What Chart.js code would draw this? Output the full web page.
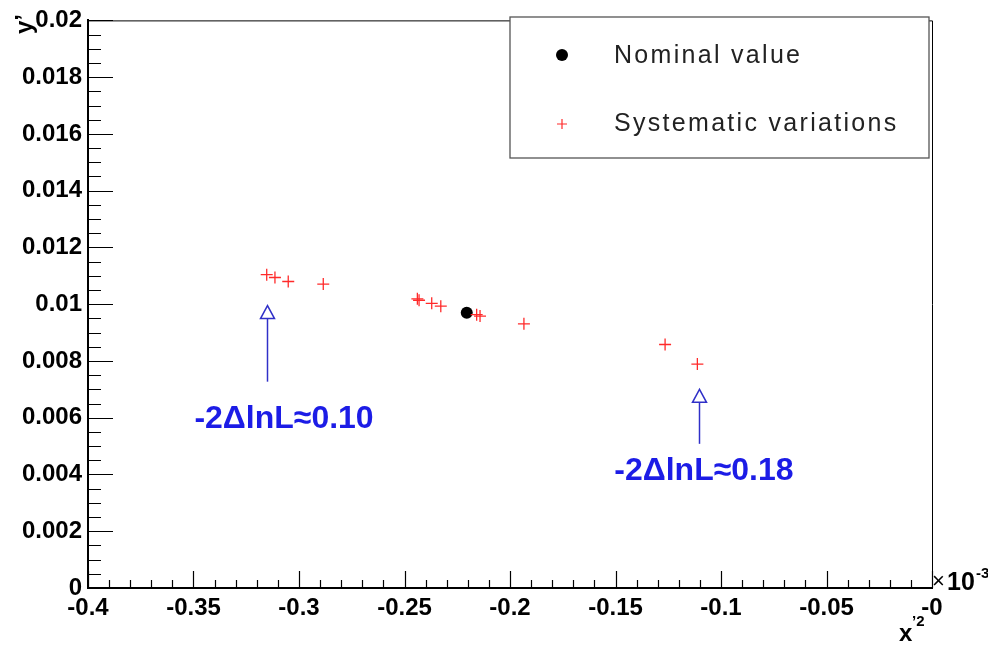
<!DOCTYPE html>
<html>
<head>
<meta charset="utf-8">
<script src="https://cdn.jsdelivr.net/npm/chart.js@4.4.1/dist/chart.umd.min.js"></script>
<style>
  html, body { margin: 0; padding: 0; background: #fff; }
  #wrap { width: 988px; height: 652px; }
</style>
</head>
<body>
<div id="wrap"><canvas id="scanChart"></canvas></div>
<script>
// systematic variations (x'^2, y')
var sysX = [-0.3153, -0.3114, -0.3051, -0.2885, -0.2439, -0.2431, -0.2371, -0.2328, -0.2158, -0.2142, -0.1934, -0.1265, -0.1112];
var sysY = [0.01104, 0.01094, 0.01080, 0.01071, 0.01019, 0.01014, 0.01003, 0.00993, 0.00963, 0.00958, 0.00931, 0.00858, 0.00789];
// nominal fit
var nomX = [-0.2205];
var nomY = [0.00970];
// tick labels
var xTickLabels = ['-0.4', '-0.35', '-0.3', '-0.25', '-0.2', '-0.15', '-0.1', '-0.05', '-0'];
var yTickLabels = ['0', '0.002', '0.004', '0.006', '0.008', '0.01', '0.012', '0.014', '0.016', '0.018', '0.02'];
// arrows + labels
var arrowX = [-0.3153, -0.1105];
var arrowFrom = [0.00727, 0.00508];
var arrowTo = [0.00995, 0.00700];
var arrowText = ['-2\u0394lnL\u22480.10', '-2\u0394lnL\u22480.18'];
var arrowTextX = [-0.3071, -0.1081];
var arrowTextY = [0.00594, 0.00412];

var blue = '#1c1ce6';
var tickFont = { family: 'Liberation Sans', size: 24, weight: 'bold' };

function pts(xs, ys) {
    var out = [];
    for (var i = 0; i < xs.length; i++) out.push({ x: xs[i], y: ys[i] });
    return out;
}

// ROOT-like inner ticks, frame, legend, arrows, axis titles
var rootStyle = {
    id: 'rootStyle',
    afterDraw: function (chart) {
        var ctx = chart.ctx, a = chart.chartArea;
        var xs = chart.scales.x, ys = chart.scales.y;
        ctx.save();
        ctx.strokeStyle = '#000';
        ctx.lineWidth = 1;
        // frame top/right
        ctx.beginPath();
        ctx.moveTo(a.left, a.top + 0.5); ctx.lineTo(a.right + 0.5, a.top + 0.5);
        ctx.lineTo(a.right + 0.5, a.bottom);
        ctx.stroke();
        // x ticks
        ctx.lineWidth = 1.2;
        ctx.beginPath();
        for (var i = 0; i <= 40; i++) {
            var v = -0.4 + i * 0.01;
            var px = Math.round(xs.getPixelForValue(v)) + 0.5;
            var len = (i % 5 === 0) ? 17 : 8;
            ctx.moveTo(px, a.bottom); ctx.lineTo(px, a.bottom - len);
        }
        // y ticks
        for (var j = 0; j <= 40; j++) {
            var w = j * 0.0005;
            var py = Math.round(ys.getPixelForValue(w)) + 0.5;
            var l2 = (j % 4 === 0) ? 25 : 13;
            ctx.moveTo(a.left, py); ctx.lineTo(a.left + l2, py);
        }
        ctx.stroke();

        // legend box
        ctx.fillStyle = '#fff';
        ctx.fillRect(510, 17, 419, 141);
        ctx.strokeStyle = '#555';
        ctx.lineWidth = 1.3;
        ctx.strokeRect(510, 17, 419, 141);
        ctx.fillStyle = '#000';
        ctx.beginPath(); ctx.arc(562, 55, 6, 0, Math.PI * 2); ctx.fill();
        ctx.strokeStyle = '#ff2a2a';
        ctx.lineWidth = 1.2;
        ctx.beginPath();
        ctx.moveTo(557, 124); ctx.lineTo(567, 124);
        ctx.moveTo(562, 119); ctx.lineTo(562, 129);
        ctx.stroke();
        ctx.fillStyle = '#222';
        ctx.font = '25px "Liberation Sans"';
        ctx.letterSpacing = '2.3px';
        ctx.textAlign = 'left';
        ctx.textBaseline = 'middle';
        ctx.fillText('Nominal value', 614, 56);
        ctx.fillText('Systematic variations', 614, 124);
        ctx.letterSpacing = '0px';

        // arrows
        for (var k = 0; k < arrowX.length; k++) {
            var ax = Math.round(xs.getPixelForValue(arrowX[k])) + 0.5;
            var y0 = ys.getPixelForValue(arrowFrom[k]);
            var y1 = ys.getPixelForValue(arrowTo[k]);
            ctx.strokeStyle = '#3030c8';
            ctx.lineWidth = 1.5;
            ctx.beginPath();
            ctx.moveTo(ax, y0); ctx.lineTo(ax, y1 + 13);
            ctx.stroke();
            ctx.beginPath();
            ctx.moveTo(ax, y1); ctx.lineTo(ax - 7, y1 + 13); ctx.lineTo(ax + 7, y1 + 13); ctx.closePath();
            ctx.stroke();
            ctx.fillStyle = blue;
            ctx.font = 'bold 32px "Liberation Sans"';
            ctx.textAlign = 'center';
            ctx.textBaseline = 'middle';
            ctx.fillText(arrowText[k], xs.getPixelForValue(arrowTextX[k]), ys.getPixelForValue(arrowTextY[k]));
        }

        // x10^-3 multiplier
        ctx.fillStyle = '#000';
        ctx.textAlign = 'left';
        ctx.textBaseline = 'alphabetic';
        ctx.font = '22px "Liberation Sans"';
        ctx.fillText('\u00d7', 932, 588);
        ctx.font = 'bold 25px "Liberation Sans"';
        ctx.fillText('10', 947, 590);
        ctx.font = 'bold 15px "Liberation Sans"';
        ctx.fillText('-3', 976, 578);

        // axis titles
        ctx.font = 'bold 24px "Liberation Sans"';
        ctx.fillText('x', 899, 641);
        ctx.font = 'bold 15px "Liberation Sans"';
        ctx.fillText('\u20192', 912, 626);
        ctx.translate(25, 14);
        ctx.rotate(-Math.PI / 2);
        ctx.textAlign = 'right';
        ctx.textBaseline = 'middle';
        ctx.font = 'bold 24px "Liberation Sans"';
        ctx.fillText('y\u2019', 0, 0);
        ctx.restore();
    }
};

var ctx = document.getElementById('scanChart').getContext('2d');
var scanChart = new Chart(ctx, {
    type: 'scatter',
    data: {
        datasets: [
            {
                label: 'Systematic variations',
                data: pts(sysX, sysY),
                pointStyle: 'cross',
                pointRadius: 6,
                borderColor: '#ff2a2a',
                borderWidth: 1.3
            },
            {
                label: 'Nominal value',
                data: pts(nomX, nomY),
                pointStyle: 'circle',
                pointRadius: 6,
                backgroundColor: '#000',
                borderColor: '#000',
                borderWidth: 0
            }
        ]
    },
    options: {
        responsive: true,
        maintainAspectRatio: false,
        animation: false,
        layout: { padding: { top: 16, right: 56, left: 0, bottom: 0 } },
        plugins: {
            legend: { display: false },
            tooltip: { enabled: false }
        },
        scales: {
            x: {
                type: 'linear',
                min: -0.4,
                max: 0,
                afterFit: function (s) { s.height = 64; },
                grid: { drawOnChartArea: false, drawTicks: false },
                border: { display: true, color: '#000', width: 2 },
                ticks: {
                    stepSize: 0.05,
                    padding: 6,
                    color: '#000',
                    font: tickFont,
                    maxRotation: 0,
                    autoSkip: false,
                    callback: function (v, i) { return xTickLabels[i]; }
                }
            },
            y: {
                type: 'linear',
                min: 0,
                max: 0.02,
                afterFit: function (s) { s.width = 88; },
                grid: { drawOnChartArea: false, drawTicks: false },
                border: { display: true, color: '#000', width: 2 },
                ticks: {
                    stepSize: 0.002,
                    padding: 6,
                    color: '#000',
                    font: tickFont,
                    autoSkip: false,
                    callback: function (v, i) { return yTickLabels[i]; }
                }
            }
        }
    },
    plugins: [rootStyle]
});
</script>
</body>
</html>
